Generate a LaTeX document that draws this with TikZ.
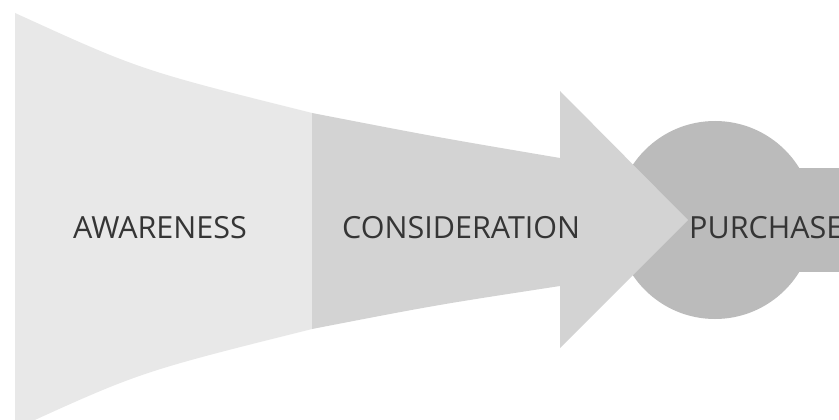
\documentclass[tikz,border=0pt]{standalone}
\usepackage{fontspec}
\setmainfont{Open Sans}
\definecolor{awarec}{HTML}{E8E8E8}
\definecolor{considc}{HTML}{D3D3D3}
\definecolor{purchc}{HTML}{BBBBBB}
\definecolor{labelc}{HTML}{353535}
\tikzset{
  stagelabel/.style={anchor=base west, inner sep=0pt, text=labelc, font=\fontsize{30.5}{36}\selectfont}
}
\begin{document}
\begin{tikzpicture}[x=1pt,y=-1pt]
\clip (0,0) rectangle (839,420);
\fill[white] (0,0) rectangle (839,420);
% awareness funnel
\fill[awarec] (15,13) .. controls (140,70) .. (312,113) -- (312,329) .. controls (140,372) .. (15,429) -- cycle;
% consideration body
\fill[considc] (312,113) .. controls (436,137) .. (560,158) -- (560,286) .. controls (436,305) .. (312,329) -- cycle;
% purchase circle and bar
\fill[purchc] (715,220) circle[radius=99];
\fill[purchc] (700,168) rectangle (839,272);
% arrow head
\fill[considc] (560,91) -- (688,220) -- (560,348) -- cycle;
% labels
\node[stagelabel] (aw) at (73,238) {AWARENESS};
\node[stagelabel] (co) at (342,238) {CONSIDERATION};
\node[stagelabel] (pu) at (689,238) {PURCHASE};
\end{tikzpicture}
\end{document}
